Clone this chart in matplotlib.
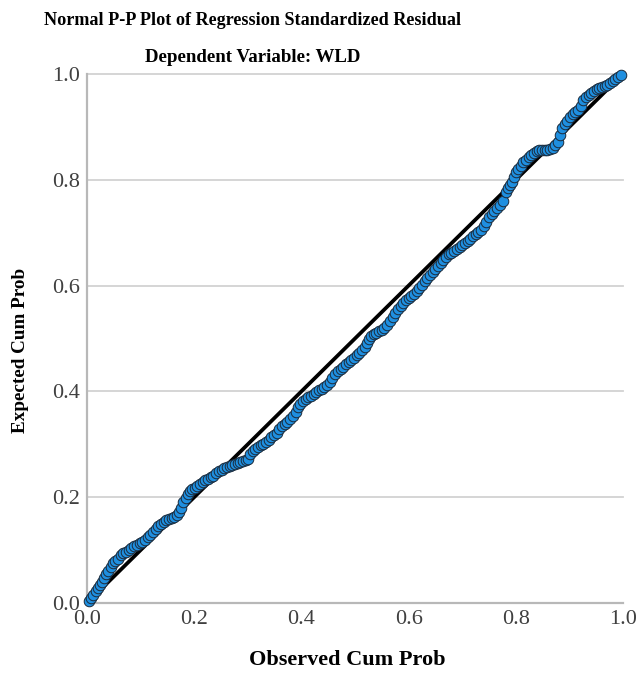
import matplotlib
matplotlib.use("Agg")
import matplotlib.pyplot as plt

observed = [0.004, 0.008, 0.012, 0.016, 0.020, 0.024, 0.028, 0.032, 0.036, 0.040,
            0.044, 0.048, 0.053, 0.058, 0.063, 0.068, 0.073, 0.078, 0.083, 0.088,
            0.093, 0.098, 0.103, 0.108, 0.113, 0.118, 0.123, 0.128, 0.133, 0.138,
            0.143, 0.148, 0.153, 0.158, 0.163, 0.168, 0.172, 0.176, 0.180, 0.184,
            0.188, 0.192, 0.196, 0.201, 0.206, 0.211, 0.216, 0.221, 0.226, 0.231,
            0.236, 0.241, 0.246, 0.251, 0.256, 0.261, 0.266, 0.271, 0.276, 0.281,
            0.286, 0.291, 0.296, 0.301, 0.305, 0.309, 0.314, 0.319, 0.324, 0.329,
            0.334, 0.339, 0.344, 0.349, 0.354, 0.359, 0.364, 0.369, 0.374, 0.379,
            0.384, 0.389, 0.393, 0.398, 0.403, 0.408, 0.413, 0.418, 0.423, 0.428,
            0.433, 0.438, 0.443, 0.448, 0.453, 0.458, 0.463, 0.468, 0.473, 0.478,
            0.483, 0.488, 0.493, 0.498, 0.503, 0.508, 0.513, 0.518, 0.522, 0.526,
            0.530, 0.535, 0.540, 0.545, 0.550, 0.555, 0.560, 0.565, 0.570, 0.575,
            0.580, 0.585, 0.590, 0.595, 0.600, 0.605, 0.610, 0.615, 0.620, 0.625,
            0.630, 0.635, 0.640, 0.645, 0.650, 0.655, 0.660, 0.665, 0.670, 0.675,
            0.680, 0.685, 0.690, 0.695, 0.700, 0.705, 0.710, 0.715, 0.720, 0.725,
            0.730, 0.735, 0.740, 0.745, 0.750, 0.755, 0.760, 0.765, 0.770, 0.777,
            0.781, 0.785, 0.789, 0.793, 0.797, 0.801, 0.805, 0.809, 0.814, 0.819,
            0.824, 0.829, 0.834, 0.839, 0.844, 0.849, 0.854, 0.859, 0.864, 0.869,
            0.874, 0.879, 0.883, 0.887, 0.891, 0.896, 0.901, 0.906, 0.911, 0.916,
            0.921, 0.926, 0.931, 0.936, 0.941, 0.946, 0.951, 0.956, 0.961, 0.966,
            0.971, 0.976, 0.981, 0.986, 0.991, 0.996]

expected = [0.004, 0.010, 0.016, 0.022, 0.028, 0.034, 0.040, 0.048, 0.055, 0.060,
            0.068, 0.076, 0.080, 0.084, 0.090, 0.094, 0.097, 0.100, 0.104, 0.107,
            0.110, 0.113, 0.116, 0.120, 0.124, 0.129, 0.134, 0.139, 0.145, 0.150,
            0.153, 0.156, 0.158, 0.161, 0.163, 0.166, 0.172, 0.180, 0.190, 0.199,
            0.206, 0.212, 0.215, 0.218, 0.221, 0.225, 0.228, 0.232, 0.235, 0.238,
            0.241, 0.245, 0.249, 0.252, 0.255, 0.257, 0.259, 0.261, 0.263, 0.265,
            0.267, 0.268, 0.270, 0.272, 0.282, 0.288, 0.292, 0.295, 0.298, 0.301,
            0.305, 0.309, 0.313, 0.317, 0.322, 0.328, 0.334, 0.339, 0.343, 0.347,
            0.353, 0.362, 0.370, 0.377, 0.382, 0.386, 0.389, 0.392, 0.395, 0.399,
            0.402, 0.405, 0.408, 0.412, 0.418, 0.425, 0.432, 0.438, 0.443, 0.447,
            0.451, 0.455, 0.459, 0.463, 0.468, 0.473, 0.478, 0.484, 0.492, 0.500,
            0.505, 0.508, 0.511, 0.514, 0.517, 0.520, 0.526, 0.533, 0.540, 0.548,
            0.556, 0.562, 0.567, 0.572, 0.576, 0.580, 0.584, 0.589, 0.595, 0.601,
            0.608, 0.615, 0.620, 0.626, 0.631, 0.637, 0.643, 0.649, 0.655, 0.659,
            0.662, 0.665, 0.669, 0.673, 0.677, 0.681, 0.685, 0.689, 0.693, 0.697,
            0.701, 0.706, 0.713, 0.721, 0.729, 0.735, 0.741, 0.747, 0.752, 0.759,
            0.776, 0.785, 0.791, 0.796, 0.805, 0.814, 0.821, 0.827, 0.833, 0.838,
            0.843, 0.847, 0.851, 0.854, 0.856, 0.857, 0.857, 0.857, 0.858, 0.861,
            0.866, 0.872, 0.885, 0.897, 0.905, 0.912, 0.918, 0.924, 0.928, 0.932,
            0.940, 0.950, 0.956, 0.961, 0.965, 0.968, 0.971, 0.973, 0.975, 0.977,
            0.980, 0.983, 0.986, 0.990, 0.995, 0.999]

ref_line = [0.0, 1.0]
ticks = [0.0, 0.2, 0.4, 0.6, 0.8, 1.0]
tick_labels = ["0.0", "0.2", "0.4", "0.6", "0.8", "1.0"]

title1 = "Normal P-P Plot of Regression Standardized Residual"
title2 = "Dependent Variable: WLD"
xlabel = "Observed Cum Prob"
ylabel = "Expected Cum Prob"

W, H = 641, 681
fig = plt.figure(figsize=(W / 100, H / 100), dpi=100)
fig.patch.set_facecolor("white")
L, R, T, B = 87, 623, 74, 603
ax = fig.add_axes([L / W, 1 - B / H, (R - L) / W, (B - T) / H])

serif = ["Liberation Serif", "DejaVu Serif"]

for t in ticks[1:]:
    ax.axhline(t, color="#d2d2d2", lw=1.3, zorder=0, clip_on=False)

ax.plot(ref_line, ref_line, color="black", lw=2.7, zorder=2, solid_capstyle="butt")
ax.scatter(observed, expected, s=58, facecolor="#1f8fe0", edgecolor="#1b2a3a",
           linewidths=0.7, zorder=3, clip_on=False)

ax.set_xlim(0, 1)
ax.set_ylim(0, 1)
for s in ["top", "right"]:
    ax.spines[s].set_visible(False)
for s in ["left", "bottom"]:
    ax.spines[s].set_color("#b8b8b8")
    ax.spines[s].set_linewidth(1.6)
ax.set_xticks(ticks)
ax.set_yticks(ticks)
ax.set_xticklabels(tick_labels, family=serif, fontsize=16, color="#404040")
ax.set_yticklabels(tick_labels, family=serif, fontsize=16, color="#404040")
ax.tick_params(length=0, pad=5)

fig.text(253 / W, 1 - 25 / H, title1, family=serif, fontweight="bold",
         fontsize=13.1, ha="center", va="baseline")
fig.text(253 / W, 1 - 62 / H, title2, family=serif, fontweight="bold",
         fontsize=13.6, ha="center", va="baseline")
fig.text(347 / W, 1 - 665 / H, xlabel, family=serif, fontweight="bold",
         fontsize=16, ha="center", va="baseline")
fig.text(21 / W, 1 - 350 / H, ylabel, family=serif, fontweight="bold",
         fontsize=13.8, ha="center", va="center", rotation=90)

fig.savefig("out.png", dpi=100, facecolor="white")
